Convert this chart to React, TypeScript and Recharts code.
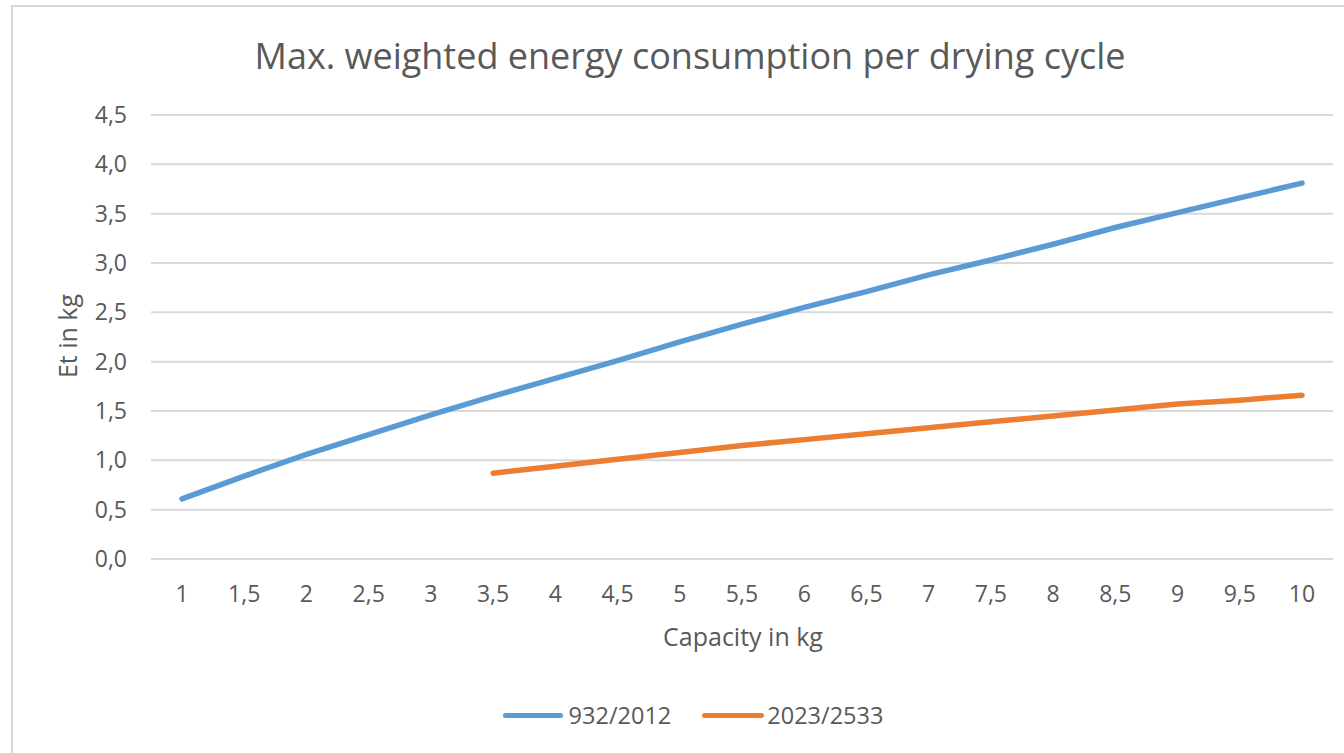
import React from 'react';
import { LineChart, Line, XAxis, YAxis, CartesianGrid, Legend } from 'recharts';

const capacities: string[] = ['1','1,5','2','2,5','3','3,5','4','4,5','5','5,5','6','6,5','7','7,5','8','8,5','9','9,5','10'];
const series932: (number | null)[] = [0.61,0.84,1.06,1.26,1.46,1.65,1.83,2.01,2.20,2.38,2.55,2.71,2.88,3.03,3.19,3.36,3.51,3.66,3.81];
const series2023: (number | null)[] = [null,null,null,null,null,0.87,0.94,1.01,1.08,1.15,1.21,1.27,1.33,1.39,1.45,1.51,1.57,1.61,1.66];
const yTicks: number[] = [0,0.5,1,1.5,2,2.5,3,3.5,4,4.5];

const data = capacities.map((c, i) => ({ cap: c, a: series932[i], b: series2023[i] }));

const FONT = '"Open Sans", sans-serif';
const TXT = '#595959';

const LegendContent = () => (
  <div style={{ display: 'flex', justifyContent: 'center', alignItems: 'center', height: 30, fontFamily: FONT, fontSize: 23.5, color: TXT }}>
    <div style={{ display: 'flex', alignItems: 'center', marginRight: 31 }}>
      <div style={{ width: 60, height: 5, borderRadius: 3, background: '#5b9bd5', marginRight: 6 }} />
      <span>932/2012</span>
    </div>
    <div style={{ display: 'flex', alignItems: 'center' }}>
      <div style={{ width: 62, height: 5, borderRadius: 3, background: '#ed7d31', marginRight: 3 }} />
      <span>2023/2533</span>
    </div>
  </div>
);

export default function App() {
  return (
    <div style={{ position: 'absolute', left: 0, top: 0, width: 1344, height: 753, background: '#fff', overflow: 'hidden' }}>
      <div style={{ position: 'absolute', left: 11, top: 5, width: 1400, height: 800, border: '2px solid #d9d9d9', boxSizing: 'border-box' }} />
      <div style={{ position: 'absolute', left: 0, top: 55, width: 1380, textAlign: 'center', fontFamily: FONT, fontSize: 36, color: TXT, whiteSpace: 'nowrap', transform: 'translateY(-50%)' }}>
        Max. weighted energy consumption per drying cycle
      </div>
      <div style={{ position: 'absolute', left: 67, top: 336, transform: 'translate(-50%, -50%) rotate(-90deg)', fontFamily: FONT, fontSize: 25, color: TXT, whiteSpace: 'nowrap' }}>
        Et in kg
      </div>
      <div style={{ position: 'absolute', left: 743, top: 636, transform: 'translate(-50%, -50%)', fontFamily: FONT, fontSize: 25, color: TXT, whiteSpace: 'nowrap' }}>
        Capacity in kg
      </div>
      <div style={{ position: 'absolute', left: 0, top: 0 }}>
        <LineChart width={1344} height={753} data={data} margin={{ top: 115, right: 11, left: 91, bottom: 134 }}>
          <CartesianGrid vertical={false} stroke="#d9d9d9" strokeWidth={2} />
          <XAxis
            dataKey="cap"
            axisLine={false}
            tickLine={false}
            tickSize={0}
            tickMargin={27}
            interval={0}
            padding={{ left: 31, right: 31 }}
            tick={{ fill: TXT, fontSize: 23, fontFamily: FONT }}
          />
          <YAxis
            width={60}
            domain={[0, 4.5]}
            ticks={yTicks}
            axisLine={false}
            tickLine={false}
            tickSize={0}
            tickMargin={24}
            tickFormatter={(v: number) => v.toFixed(1).replace('.', ',')}
            tick={{ fill: TXT, fontSize: 23, fontFamily: FONT }}
          />
          <Legend content={<LegendContent />} wrapperStyle={{ position: 'absolute', top: 700, left: 0, width: 1386, height: 30 }} />
          <Line type="linear" dataKey="a" name="932/2012" stroke="#5b9bd5" strokeWidth={5.5} strokeLinecap="round" dot={false} isAnimationActive={false} />
          <Line type="linear" dataKey="b" name="2023/2533" stroke="#ed7d31" strokeWidth={5.5} strokeLinecap="round" dot={false} isAnimationActive={false} connectNulls={false} />
        </LineChart>
      </div>
    </div>
  );
}
